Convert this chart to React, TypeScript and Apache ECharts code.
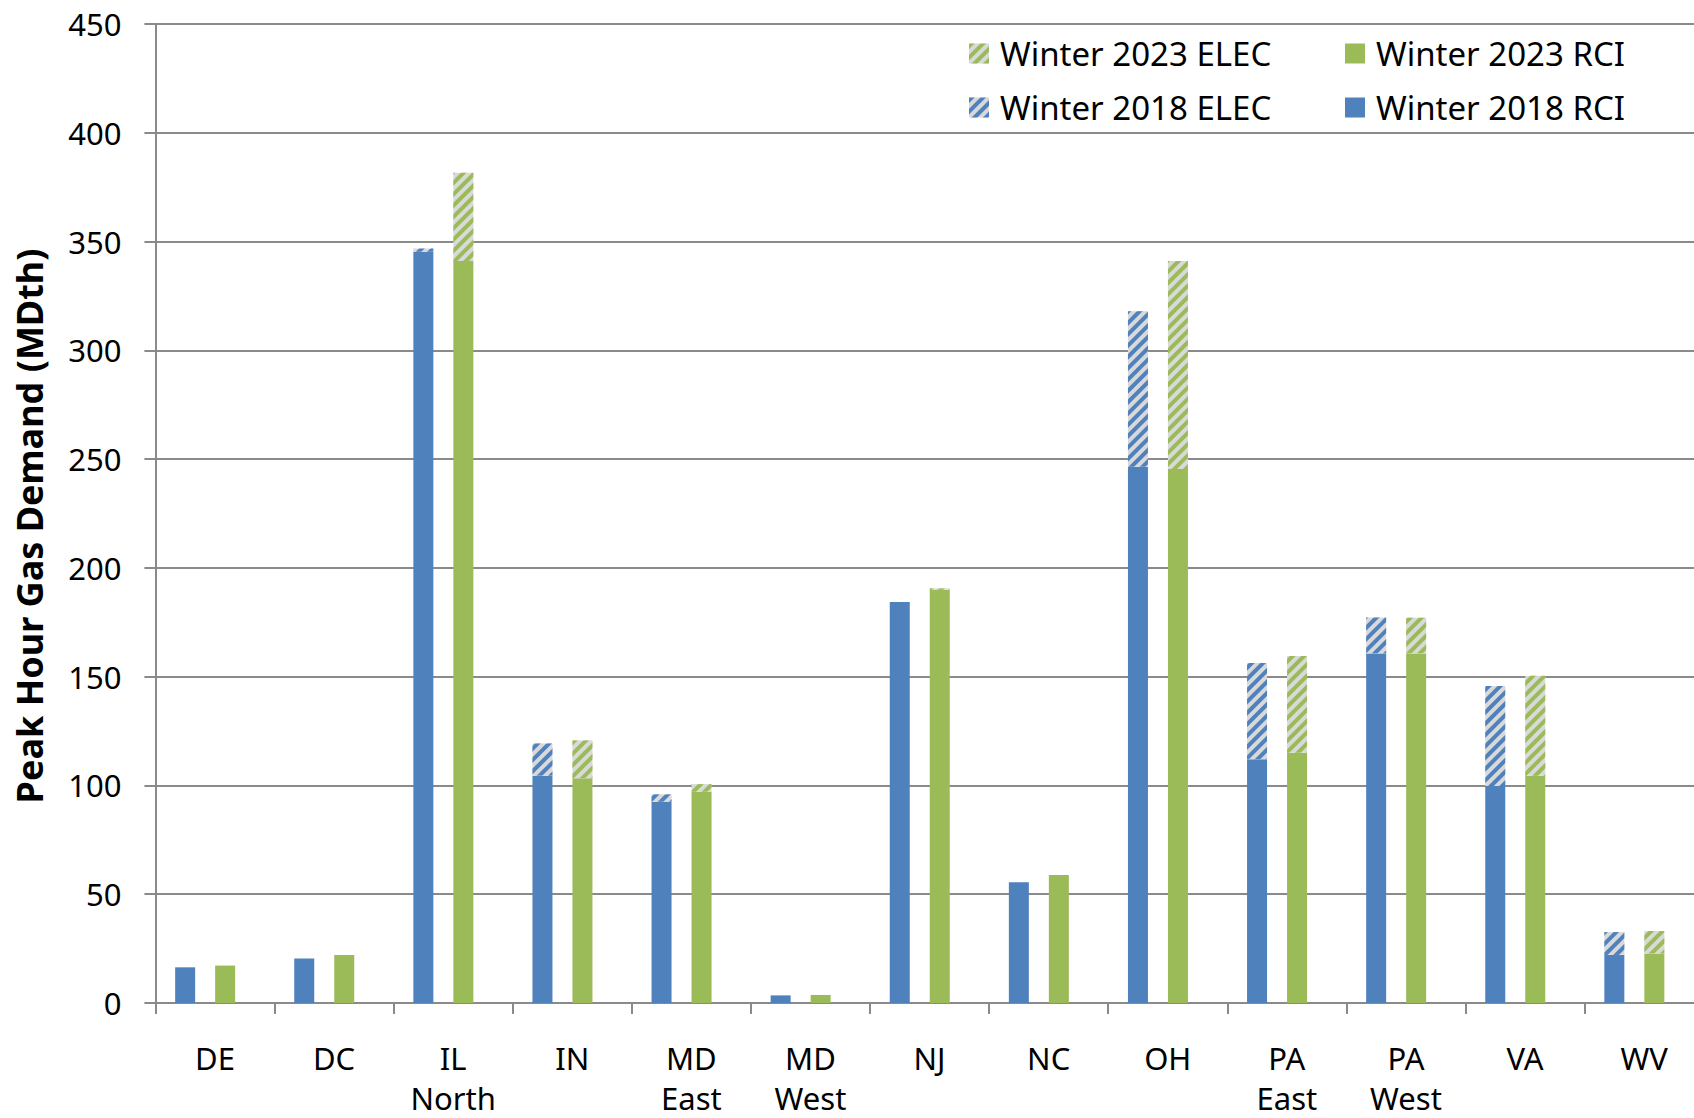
import React, { useEffect, useRef } from "react";
import * as echarts from "echarts";

const categories = ["DE", "DC", "IL\nNorth", "IN", "MD\nEast", "MD\nWest", "NJ", "NC", "OH", "PA\nEast", "PA\nWest", "VA", "WV"];
const rci2018 = [16.4, 20.4, 345.3, 104.5, 92.5, 3.5, 184.3, 55.5, 246.5, 112.0, 160.7, 99.7, 22.1];
const elec2018 = [0, 0, 1.5, 14.8, 3.4, 0, 0, 0, 71.5, 44.3, 16.5, 46.0, 10.5];
const rci2023 = [17.2, 22.1, 341.1, 103.3, 97.1, 3.7, 189.9, 58.8, 245.4, 115.0, 160.7, 104.5, 22.8];
const elec2023 = [0, 0, 40.5, 17.4, 3.5, 0, 0.7, 0, 95.7, 44.5, 16.4, 45.9, 10.3];
const yTicks = { min: 0, max: 450, interval: 50 };

const BLUE = "#4F81BD";
const GREEN = "#9BBB59";
const HATCH_BG = "#D9D9D9";
const AXIS = "#8a8a8a";
const FONT = "Noto Sans";

const hatch = (color: string) => ({
  symbol: "rect",
  symbolSize: 1,
  dashArrayX: [1, 0],
  dashArrayY: [3.5, 3.5],
  rotation: -Math.PI / 4,
  color,
  backgroundColor: HATCH_BG,
});

export default function App() {
  const ref = useRef<HTMLDivElement>(null);
  useEffect(() => {
    document.body.style.margin = "0";
    const chart = echarts.init(ref.current!, null, { renderer: "svg" });
    const catWidth = 119.1;
    const plotWidth = catWidth * categories.length;
    const barSeries = (name: string, data: number[], stack: string, color: string, decal?: any) => ({
      name,
      type: "bar",
      stack,
      xAxisIndex: 1,
      yAxisIndex: 1,
      data,
      barWidth: 20,
      barGap: "100%",
      itemStyle: decal ? { color: HATCH_BG, decal } : { color },
    });
    const legendText = { fontSize: 33, color: "#000", fontFamily: FONT, padding: [0, 0, 0, 6] };
    chart.setOption({
      animation: false,
      backgroundColor: "#ffffff",
      textStyle: { fontFamily: FONT },
      grid: [
        { left: 155.4, top: 24, width: plotWidth, height: 979, outerBoundsMode: "none", containLabel: false },
        { left: 145.6, top: 24, width: plotWidth, height: 979, outerBoundsMode: "none", containLabel: false },
      ],
      legend: [
        {
          orient: "vertical",
          left: 969,
          top: 37,
          padding: 0,
          itemGap: 21,
          itemWidth: 20,
          itemHeight: 20,
          icon: "rect",
          data: ["Winter 2023 ELEC", "Winter 2018 ELEC"],
          textStyle: legendText,
        },
        {
          orient: "vertical",
          left: 1345,
          top: 37,
          padding: 0,
          itemGap: 21,
          itemWidth: 20,
          itemHeight: 20,
          icon: "rect",
          data: ["Winter 2023 RCI", "Winter 2018 RCI"],
          textStyle: legendText,
        },
      ],
      xAxis: [
        {
          type: "category",
          gridIndex: 0,
          data: categories,
          axisLine: { lineStyle: { color: AXIS, width: 2 } },
          axisTick: { show: true, length: 11, interval: 0, lineStyle: { color: AXIS, width: 2 } },
          axisLabel: {
            interval: 0,
            margin: 35,
            fontSize: 31,
            lineHeight: 40,
            color: "#000",
            fontFamily: FONT,
          },
        },
        { type: "category", gridIndex: 1, data: categories, show: false },
      ],
      yAxis: [
        {
          type: "value",
          gridIndex: 0,
          min: yTicks.min,
          max: yTicks.max,
          interval: yTicks.interval,
          axisLine: { show: true, lineStyle: { color: AXIS, width: 2 } },
          axisTick: { show: true, length: 11, lineStyle: { color: AXIS, width: 2 } },
          axisLabel: { margin: 34, fontSize: 31, color: "#000", fontFamily: FONT },
          splitLine: { show: true, lineStyle: { color: AXIS, width: 2 } },
        },
        {
          type: "value",
          gridIndex: 1,
          min: yTicks.min,
          max: yTicks.max,
          interval: yTicks.interval,
          show: false,
          splitLine: { show: false },
        },
      ],
      graphic: [
        {
          type: "text",
          x: 29,
          y: 526,
          rotation: Math.PI / 2,
          style: {
            text: "Peak Hour Gas Demand (MDth)",
            fontSize: 36,
            fontWeight: "bold",
            fontFamily: FONT,
            fill: "#000",
            align: "center",
            verticalAlign: "middle",
          },
        },
      ],
      series: [
        barSeries("Winter 2018 RCI", rci2018, "s2018", BLUE),
        barSeries("Winter 2018 ELEC", elec2018, "s2018", BLUE, hatch(BLUE)),
        barSeries("Winter 2023 RCI", rci2023, "s2023", GREEN),
        barSeries("Winter 2023 ELEC", elec2023, "s2023", GREEN, hatch(GREEN)),
      ],
    });
    return () => chart.dispose();
  }, []);
  return <div ref={ref} style={{ width: 1694, height: 1118 }} />;
}
